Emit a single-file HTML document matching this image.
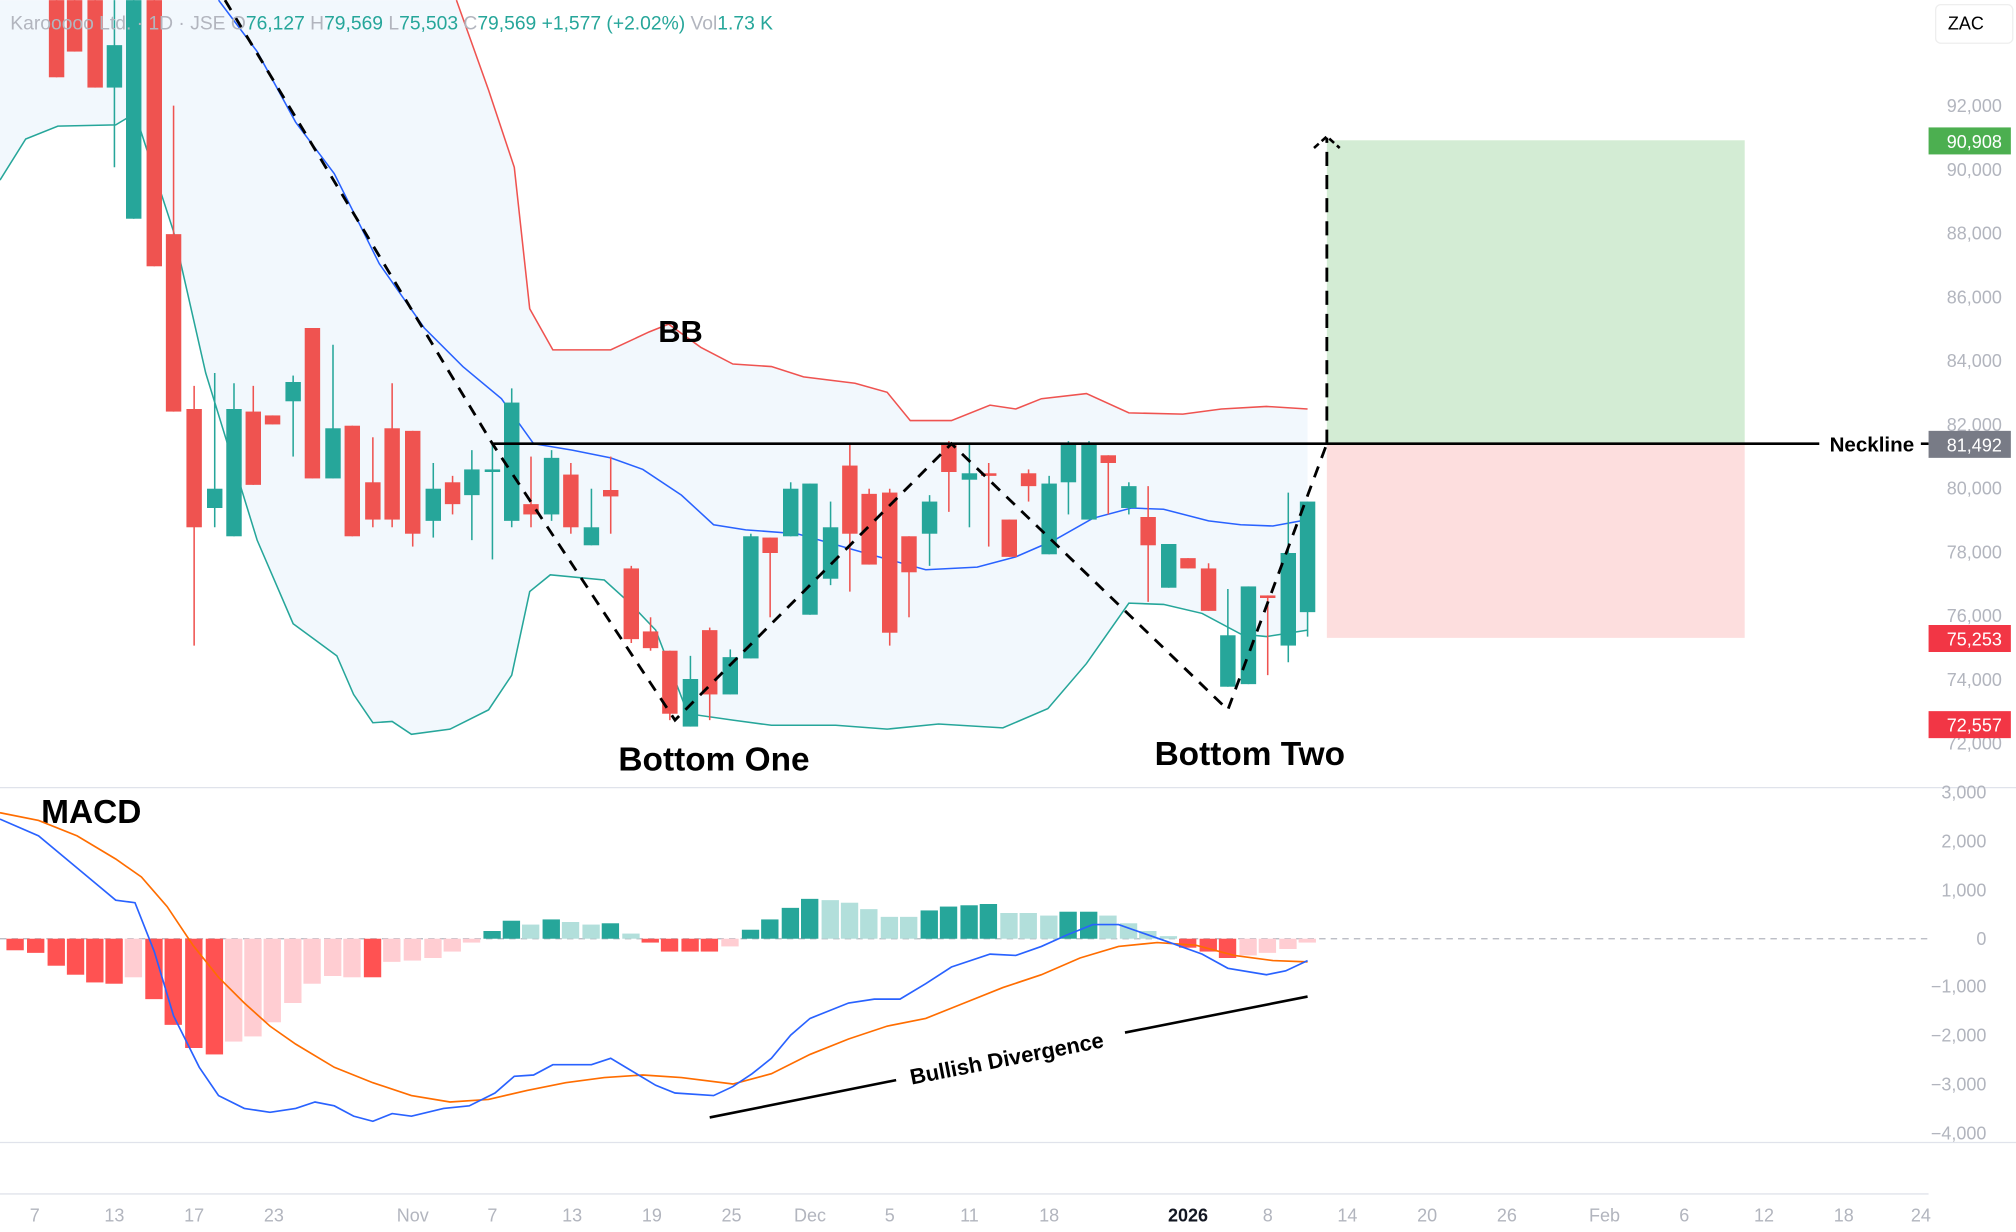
<!DOCTYPE html>
<html><head><meta charset="utf-8"><style>
html,body{margin:0;padding:0;background:#fff;overflow:hidden}
svg{display:block;font-family:"Liberation Sans",sans-serif}
</style></head><body>
<svg id="s" width="2016" height="1232" viewBox="0 0 1568 958" xmlns="http://www.w3.org/2000/svg">
<rect width="1568" height="958" fill="#fff"/>
<g id="g"></g>
</svg>
<script>
const g=document.getElementById('g');let h='';
const G='#26a69a',R='#ef5350';
const pl=a=>a.map(p=>p.join(',')).join(' ');
const up=[[355,0],[380,70],[400,130],[412,240],[430,272],[475,272],[505,258],[520,252],[545,270],[570,283],[600,285],[625,293],[665,298],[690,305],[708,327],[740,327],[770,315],[790,318],[810,310],[845,306],[878,321],[920,322],[950,318],[985,316],[1017,318]];
const lo=[[0,140],[20,108],[45,98],[90,97],[105,88],[135,180],[160,290],[200,420],[228,485],[262,510],[275,540],[290,562],[305,561],[320,571],[350,567],[380,552],[398,525],[412,460],[428,447],[470,451],[491,470],[510,490],[535,555],[570,560],[600,564],[650,564],[690,567],[730,563],[780,566],[815,551],[845,516],[878,469],[905,470],[935,477],[965,493],[985,495],[1017,490]];
const mid=[[170,0],[200,40],[230,95],[260,135],[295,205],[330,255],[360,285],[390,310],[415,345],[445,350],[475,356],[500,365],[530,385],[555,408],[580,412],[620,415],[680,432],[720,443],[760,441],[790,433],[820,420],[850,403],[880,395],[905,396],[940,405],[965,408],[990,409],[1017,404]];
h+=`<polygon points="0,0 ${pl(up)} ${pl(lo.slice().reverse())}" fill="#f2f8fd"/>`;
h+=`<rect x="1032" y="109" width="325" height="236" fill="#d3ecd4"/><rect x="1032" y="345" width="325" height="151" fill="#fddede"/>`;
h+=`<polyline points="${pl(up)}" fill="none" stroke="${R}" stroke-width="1.2"/>`;
h+=`<polyline points="${pl(lo)}" fill="none" stroke="${G}" stroke-width="1.2"/>`;
h+=`<polyline points="${pl(mid)}" fill="none" stroke="#2962ff" stroke-width="1.2"/>`;
const c=[[44,0,60,R,0,60],[58,0,40,R,0,40],[74,0,68,R,0,68],[89,35,68,G,0,130],[104,0,170,G,0,170],[120,0,207,R,0,207],[135,182,320,R,82,320],[151,318,410,R,300,502],[167,380,395,G,290,410],[182,318,417,G,298,417],[197,320,377,R,300,377],[212,323,330,R,323,330],[228,297,312,G,292,355],[243,255,372,R,255,372],[259,333,372,G,268,372],[274,331,417,R,331,417],[290,375,404,R,340,410],[305,333,404,R,298,410],[321,335,415,R,335,425],[337,380,405,G,360,418],[352,375,392,R,370,400],[367,365,385,G,350,420],[383,365,367,G,345,435],[398,313,405,G,302,410],[413,392,400,R,355,410],[429,356,400,G,350,405],[444,369,410,R,360,415],[460,410,424,G,380,424],[475,381,386,R,355,415],[491,442,497,R,440,500],[506,491,504,R,480,506],[521,506,555,R,506,560],[537,528,565,G,510,565],[552,490,540,R,488,560],[568,511,540,G,505,540],[584,417,512,G,415,512],[599,418,430,R,418,480],[615,380,417,G,375,417],[630,376,478,G,376,478],[646,410,450,G,390,455],[661,362,415,R,346,460],[676,384,439,R,380,439],[692,383,492,R,380,502],[707,417,445,R,417,480],[723,390,415,G,385,440],[738,345,367,R,343,398],[754,368,373,G,345,410],[769,368,370,R,360,425],[785,404,433,R,404,433],[800,368,378,R,365,390],[816,376,431,G,370,431],[831,345,375,G,343,400],[847,345,404,G,343,404],[862,354,360,R,354,400],[878,378,395,G,375,400],[893,402,424,R,378,468],[909,423,457,G,423,457],[924,434,442,R,434,442],[940,442,475,R,438,475],[955,494,534,G,458,534],[971,456,532,G,456,532],[986,463,465,R,463,525],[1002,430,502,G,383,515],[1017,390,476,G,390,495]];
c.forEach(([x,t,b,col,wt,wb])=>{h+=`<line x1="${x}" y1="${wt}" x2="${x}" y2="${wb}" stroke="${col}" stroke-width="1.2"/><rect x="${x-6}" y="${t}" width="12" height="${Math.max(1,b-t)}" fill="${col}"/>`;});
h+=`<polyline points="175,0 383,345 525,560 740,345 955,552 1032,345" fill="none" stroke="#000" stroke-width="2.2" stroke-dasharray="9,7"/>`;
h+=`<line x1="1032" y1="345" x2="1032" y2="107" stroke="#000" stroke-width="2.2" stroke-dasharray="11,7"/>`;
h+=`<polyline points="1022,115 1032,106 1042,115" fill="none" stroke="#000" stroke-width="2" stroke-dasharray="5,3"/>`;
h+=`<line x1="383" y1="345" x2="1415" y2="345" stroke="#000" stroke-width="2"/>`;
h+=`<text x="1423" y="351" font-size="16" font-weight="bold">Neckline</text><line x1="1494" y1="345" x2="1500" y2="345" stroke="#000" stroke-width="2"/>`;
for(let p=92000;p>=72000;p-=2000){const y=82+(92000-p)*0.0248;h+=`<text x="1557" y="${y+5}" font-size="14" fill="#b2b5be" text-anchor="end">${(p/1000)},000</text>`;}
const tag=(y,col,t)=>{h+=`<rect x="1500" y="${y-10}" width="64" height="21" fill="${col}"/><text x="1557" y="${y+6}" font-size="14" fill="#fff" text-anchor="end">${t}</text>`;};
tag(109,'#4caf50','90,908');tag(345,'#787b86','81,492');tag(496,'#f23645','75,253');tag(563,'#f23645','72,557');
h+=`<rect x="1505.5" y="3.5" width="60" height="30" rx="4" fill="#fff" stroke="#eee"/><text x="1529" y="23" font-size="14" text-anchor="middle">ZAC</text>`;
h+=`<text x="8" y="23" font-size="15" fill="#b2b5be">Karooooo Ltd. · 1D · JSE  O<tspan fill="#26a69a">76,127</tspan>  H<tspan fill="#26a69a">79,569</tspan>  L<tspan fill="#26a69a">75,503</tspan>  C<tspan fill="#26a69a">79,569  +1,577 (+2.02%)</tspan>  Vol<tspan fill="#26a69a">1.73 K</tspan></text>`;
h+=`<text x="512" y="266" font-size="24" font-weight="bold">BB</text>`;
h+=`<text x="481" y="599" font-size="26" font-weight="bold">Bottom One</text>`;
h+=`<text x="898" y="595" font-size="26" font-weight="bold">Bottom Two</text>`;
h+=`<text x="32" y="640" font-size="26" font-weight="bold">MACD</text>`;
h+=`<line x1="0" y1="612.5" x2="1568" y2="612.5" stroke="#e0e3eb"/><line x1="0" y1="888.5" x2="1568" y2="888.5" stroke="#e0e3eb"/><line x1="0" y1="928.5" x2="1500" y2="928.5" stroke="#e0e3eb"/>`;
[[3000,616],[2000,654],[1000,692],[0,730],[-1000,767],[-2000,805],[-3000,843],[-4000,881]].forEach(([v,y])=>{const t=v==0?'0':(v<0?'−':'')+Math.abs(v/1000)+',000';h+=`<text x="1545" y="${y+5}" font-size="14" fill="#b2b5be" text-anchor="end">${t}</text>`;});
h+=`<line x1="0" y1="730" x2="1500" y2="730" stroke="#b2b5be" stroke-dasharray="5,4"/>`;
const DR='#ff5252',PK='#ffcdd2',DG='#26a69a',LG='#b2dfdb';
const hs=[[12,739,DR],[28,741,DR],[44,751,DR],[59,758,DR],[74,764,DR],[89,765,DR],[104,760,PK],[120,777,DR],[135,797,DR],[151,815,DR],[167,820,DR],[182,810,PK],[197,806,PK],[212,795,PK],[228,780,PK],[243,765,PK],[259,759,PK],[274,760,PK],[290,760,DR],[305,748,PK],[321,747,PK],[337,745,PK],[352,740,PK],[367,733,PK],[383,724,DG],[398,716,DG],[413,719,LG],[429,715,DG],[444,717,LG],[460,719,LG],[475,718,DG],[491,726,LG],[506,733,DR],[521,740,DR],[537,740,DR],[552,740,DR],[568,736,PK],[584,723,DG],[599,715,DG],[615,706,DG],[630,699,DG],[646,700,LG],[661,702,LG],[676,707,LG],[692,713,LG],[707,713,LG],[723,708,DG],[738,705,DG],[754,704,DG],[769,703,DG],[785,710,LG],[800,710,LG],[816,712,LG],[831,709,DG],[847,709,DG],[862,712,LG],[878,718,LG],[893,724,LG],[909,728,LG],[924,737,DR],[940,740,DR],[955,745,DR],[971,743,PK],[986,741,PK],[1002,738,PK],[1017,733,PK]];
hs.forEach(([x,y,col])=>{const t=Math.min(y,730),b=Math.max(y,730);h+=`<rect x="${x-7}" y="${t}" width="13.5" height="${b-t}" fill="${col}"/>`;});
const ml=[[0,637],[30,650],[60,675],[90,700],[105,702],[120,740],[135,790],[155,830],[170,852],[190,862],[210,865],[230,862],[245,857],[260,860],[275,868],[290,872],[305,866],[320,868],[345,862],[365,860],[385,850],[400,837],[415,836],[430,828],[460,828],[475,823],[490,832],[510,844],[525,850],[555,852],[570,845],[585,835],[600,823],[615,805],[630,792],[660,780],[680,777],[700,777],[720,765],[740,752],[770,742],[790,743],[810,736],[830,727],[850,719],[870,719],[890,726],[910,733],[935,742],[955,753],[985,758],[1000,755],[1017,747]];
const sl=[[0,632],[30,638],[60,650],[90,668],[110,682],[130,705],[150,735],[170,760],[190,780],[210,798],[230,812],[260,830],[290,842],[320,852],[350,857],[380,855],[410,848],[440,842],[470,838],[500,836],[530,838],[570,843],[600,835],[630,820],[660,808],[690,798],[720,792],[750,780],[780,768],[810,758],[840,745],[870,736],[900,733],[930,735],[960,743],[990,747],[1017,748]];
h+=`<polyline points="${pl(sl)}" fill="none" stroke="#ff6d00" stroke-width="1.3"/>`;
h+=`<polyline points="${pl(ml)}" fill="none" stroke="#2962ff" stroke-width="1.3"/>`;
h+=`<line x1="552" y1="869" x2="697" y2="840" stroke="#000" stroke-width="2"/><line x1="875" y1="803" x2="1017" y2="775" stroke="#000" stroke-width="2"/>`;
h+=`<text x="783" y="829" font-size="17" font-weight="bold" text-anchor="middle" transform="rotate(-11 783 823)">Bullish Divergence</text>`;
[['7',27],['13',89],['17',151],['23',213],['Nov',321],['7',383],['13',445],['19',507],['25',569],['Dec',630],['5',692],['11',754],['18',816],['2026',924],['8',986],['14',1048],['20',1110],['26',1172],['Feb',1248],['6',1310],['12',1372],['18',1434],['24',1494]].forEach(([t,x])=>{const b=t=='2026';h+=`<text x="${x}" y="950" font-size="14" fill="${b?'#131722':'#b2b5be'}" ${b?'font-weight="bold"':''} text-anchor="middle">${t}</text>`;});
g.innerHTML=h;
</script>
</body></html>
